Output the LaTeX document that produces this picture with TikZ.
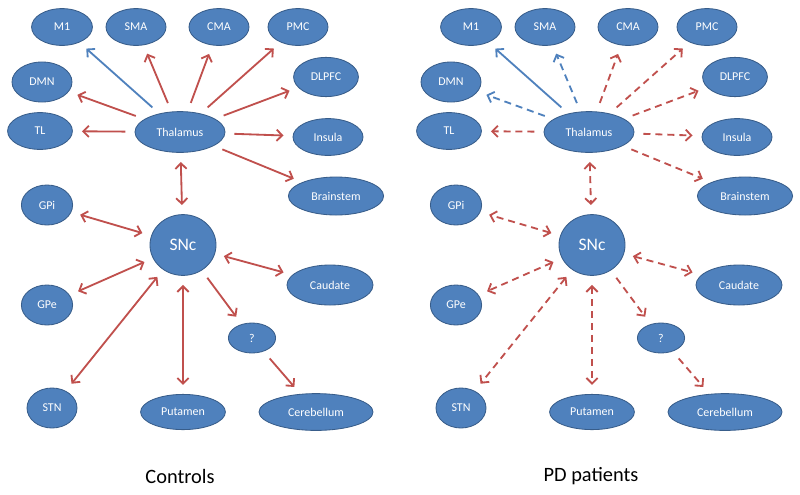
\documentclass[tikz,border=0pt]{standalone}
\usepackage{fontspec}
\setmainfont{Carlito}
\usetikzlibrary{shapes.geometric,arrows.meta}
\definecolor{nodeblue}{HTML}{4F81BD}
\definecolor{nodeedge}{HTML}{385D8A}
\definecolor{linkred}{HTML}{C0504D}
\definecolor{linkblue}{HTML}{4F81BD}
\begin{document}
\begin{tikzpicture}[x=0.025cm,y=-0.025cm]
      % Define styles for nodes and links
      \tikzstyle{region} = [ellipse, draw=nodeedge, fill=nodeblue, text=white,
      inner sep=0pt, line width=0.6pt, font=\fontsize{8.5}{10}\selectfont]
      \tikzstyle{hub} = [region, font=\fontsize{12.5}{14}\selectfont]
      \tikzstyle{link} = [line width=1.3pt, shorten >=6.5pt, shorten <=6.5pt,
      >={Straight Barb[length=4pt,width=8pt]}]
      \tikzstyle{pd} = [dash pattern=on 5pt off 3.5pt]
      \tikzstyle{caption} = [font=\fontsize{14.5}{17}\selectfont]

      \useasboundingbox (0,0) rectangle (800,494);

      % Controls: regions
      \node[region, minimum width=1.52cm, minimum height=0.92cm] (m1) at (62,27) {M1};
      \node[region, minimum width=1.5cm, minimum height=0.92cm] (sma) at (136,27) {SMA};
      \node[region, minimum width=1.5cm, minimum height=0.92cm] (cma) at (219,27) {CMA};
      \node[region, minimum width=1.5cm, minimum height=0.92cm] (pmc) at (298,27) {PMC};
      \node[region, minimum width=1.5cm, minimum height=1cm] (dmn) at (42,82) {DMN};
      \node[region, minimum width=1.62cm, minimum height=0.98cm] (dlpfc) at (326,77) {DLPFC};
      \node[region, minimum width=1.62cm, minimum height=0.92cm] (tl) at (40,131) {TL};
      \node[region, minimum width=2.25cm, minimum height=1.02cm] (thal) at (180,132) {Thalamus};
      \node[region, minimum width=1.75cm, minimum height=0.92cm] (insula) at (328,137) {Insula};
      \node[region, minimum width=2.38cm, minimum height=0.95cm] (brainstem) at (336,196) {Brainstem};
      \node[region, minimum width=1.28cm, minimum height=1cm] (gpi) at (47,205) {GPi};
      \node[hub, minimum width=1.65cm, minimum height=1.52cm] (snc) at (183,245) {SNc};
      \node[region, minimum width=2.15cm, minimum height=1cm] (caudate) at (330,285) {Caudate};
      \node[region, minimum width=1.28cm, minimum height=1cm] (gpe) at (47,305) {GPe};
      \node[region, minimum width=1.18cm, minimum height=0.75cm] (qm) at (252,338) {?};
      \node[region, minimum width=1.25cm, minimum height=1cm] (stn) at (52,408) {STN};
      \node[region, minimum width=2.12cm, minimum height=0.88cm] (putamen) at (183,412) {Putamen};
      \node[region, minimum width=2.85cm, minimum height=0.92cm] (cerebellum) at (316,412) {Cerebellum};

      % Controls: connections
      \draw[link, ->, linkblue] (thal) -- (m1);
      \draw[link, ->, linkred] (thal) -- (sma);
      \draw[link, ->, linkred] (thal) -- (cma);
      \draw[link, ->, linkred] (thal) -- (pmc);
      \draw[link, ->, linkred] (thal) -- (dmn);
      \draw[link, ->, linkred] (thal) -- (dlpfc);
      \draw[link, ->, linkred] (thal) -- (tl);
      \draw[link, ->, linkred] (thal) -- (insula);
      \draw[link, ->, linkred] (thal) -- (brainstem);
      \draw[link, <->, linkred] (thal) -- (snc);
      \draw[link, <->, linkred] (snc) -- (gpi);
      \draw[link, <->, linkred] (snc) -- (gpe);
      \draw[link, <->, linkred] (snc) -- (stn);
      \draw[link, <->, linkred] (snc) -- (putamen);
      \draw[link, <->, linkred] (snc) -- (caudate);
      \draw[link, ->, linkred] (snc) -- (qm);
      \draw[link, ->, linkred] (qm) -- (cerebellum);

      % PD patients: regions
      \node[region, minimum width=1.52cm, minimum height=0.92cm] (pdm1) at (471,27) {M1};
      \node[region, minimum width=1.5cm, minimum height=0.92cm] (pdsma) at (545,27) {SMA};
      \node[region, minimum width=1.5cm, minimum height=0.92cm] (pdcma) at (628,27) {CMA};
      \node[region, minimum width=1.5cm, minimum height=0.92cm] (pdpmc) at (707,27) {PMC};
      \node[region, minimum width=1.5cm, minimum height=1cm] (pddmn) at (451,82) {DMN};
      \node[region, minimum width=1.62cm, minimum height=0.98cm] (pddlpfc) at (735,77) {DLPFC};
      \node[region, minimum width=1.62cm, minimum height=0.92cm] (pdtl) at (449,131) {TL};
      \node[region, minimum width=2.25cm, minimum height=1.02cm] (pdthal) at (589,132) {Thalamus};
      \node[region, minimum width=1.75cm, minimum height=0.92cm] (pdinsula) at (737,137) {Insula};
      \node[region, minimum width=2.38cm, minimum height=0.95cm] (pdbrainstem) at (745,196) {Brainstem};
      \node[region, minimum width=1.28cm, minimum height=1cm] (pdgpi) at (456,205) {GPi};
      \node[hub, minimum width=1.65cm, minimum height=1.52cm] (pdsnc) at (592,245) {SNc};
      \node[region, minimum width=2.15cm, minimum height=1cm] (pdcaudate) at (739,285) {Caudate};
      \node[region, minimum width=1.28cm, minimum height=1cm] (pdgpe) at (456,305) {GPe};
      \node[region, minimum width=1.18cm, minimum height=0.75cm] (pdqm) at (661,338) {?};
      \node[region, minimum width=1.25cm, minimum height=1cm] (pdstn) at (461,408) {STN};
      \node[region, minimum width=2.12cm, minimum height=0.88cm] (pdputamen) at (592,412) {Putamen};
      \node[region, minimum width=2.85cm, minimum height=0.92cm] (pdcerebellum) at (725,412) {Cerebellum};

      % PD patients: connections
      \draw[link, ->, linkblue] (pdthal) -- (pdm1);
      \draw[link, pd, ->, linkblue] (pdthal) -- (pdsma);
      \draw[link, pd, ->, linkblue] (pdthal) -- (pddmn);
      \draw[link, pd, ->, linkred] (pdthal) -- (pdcma);
      \draw[link, pd, ->, linkred] (pdthal) -- (pdpmc);
      \draw[link, pd, ->, linkred] (pdthal) -- (pddlpfc);
      \draw[link, pd, ->, linkred] (pdthal) -- (pdtl);
      \draw[link, pd, ->, linkred] (pdthal) -- (pdinsula);
      \draw[link, pd, ->, linkred] (pdthal) -- (pdbrainstem);
      \draw[link, pd, <->, linkred] (pdthal) -- (pdsnc);
      \draw[link, pd, <->, linkred] (pdsnc) -- (pdgpi);
      \draw[link, pd, <->, linkred] (pdsnc) -- (pdgpe);
      \draw[link, pd, <->, linkred] (pdsnc) -- (pdstn);
      \draw[link, pd, <->, linkred] (pdsnc) -- (pdputamen);
      \draw[link, pd, <->, linkred] (pdsnc) -- (pdcaudate);
      \draw[link, pd, ->, linkred] (pdsnc) -- (pdqm);
      \draw[link, pd, ->, linkred] (pdqm) -- (pdcerebellum);

      % Captions at bottom
      \node[caption] (controls) at (180,476) {Controls};
      \node[caption] (patients) at (591,476) {PD patients};
\end{tikzpicture}
\end{document}
